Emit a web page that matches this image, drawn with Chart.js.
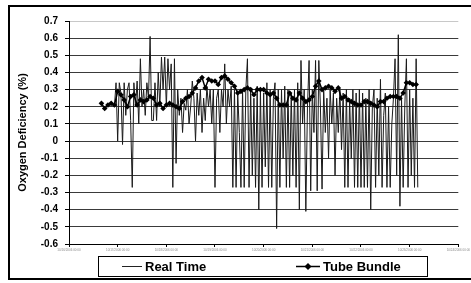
<!DOCTYPE html>
<html>
<head>
<meta charset="utf-8">
<script src="https://cdn.jsdelivr.net/npm/chart.js@4.4.1/dist/chart.umd.min.js"></script>
<style>
  html, body { margin: 0; padding: 0; background: #fff; }
  body { width: 471px; height: 283px; position: relative; overflow: hidden; }
  #frame { position: absolute; left: 8px; top: 5px; width: 480px; height: 275px; border: 2px solid #000; box-sizing: border-box; }
  #c { position: absolute; left: 0; top: 0; }
</style>
</head>
<body>
<div id="frame"></div>
<canvas id="c" width="471" height="283"></canvas>
<script>
// ---- data ----
const xTickLabels = ['10/16/2006 00:00','10/17/2006 00:00','10/18/2006 00:00','10/19/2006 00:00','10/20/2006 00:00','10/21/2006 00:00','10/22/2006 00:00','10/23/2006 00:00','10/24/2006 00:00'];
const yAxisTitle = 'Oxygen Deficiency (%)';
const seriesNames = ['Real Time', 'Tube Bundle'];

// Tube Bundle samples (one per time unit starting at 10)
const tubeStart = 10;
const tubeBundle = [
  0.22,0.19,0.21,0.22,0.21,0.29,0.27,0.24,0.20,0.26,
  0.27,0.21,0.24,0.23,0.24,0.26,0.25,0.21,0.22,0.19,
  0.21,0.22,0.21,0.20,0.19,0.23,0.25,0.26,0.28,0.31,
  0.35,0.37,0.31,0.36,0.35,0.35,0.33,0.37,0.38,0.36,
  0.34,0.32,0.28,0.29,0.30,0.31,0.30,0.27,0.30,0.30,
  0.30,0.28,0.27,0.28,0.25,0.21,0.21,0.21,0.28,0.25,
  0.24,0.28,0.25,0.23,0.24,0.26,0.32,0.35,0.30,0.31,
  0.32,0.31,0.29,0.31,0.25,0.26,0.24,0.23,0.22,0.21,
  0.21,0.23,0.23,0.22,0.21,0.20,0.23,0.23,0.25,0.26,
  0.26,0.26,0.25,0.28,0.34,0.34,0.33,0.33
];

// Real Time samples (every half time unit starting at 14)
const realStart = 14;
const realStep = 0.5;
const realTime = [
  0.20,0.34,0.00,0.34,0.28,-0.02,0.34,0.15,0.30,0.34,
  0.12,-0.27,0.34,0.20,0.35,0.10,0.48,0.20,0.30,0.15,
  0.34,0.25,0.61,0.12,0.12,0.34,0.12,0.40,0.20,0.49,
  0.30,0.49,0.20,0.48,0.30,0.45,-0.27,0.48,-0.13,0.30,
  0.15,0.25,0.05,0.22,0.18,0.30,0.10,0.20,0.35,0.25,
  0.00,0.28,0.15,0.30,0.05,0.25,0.12,0.32,0.20,0.30,
  0.10,0.30,-0.27,0.25,0.30,0.05,0.30,0.20,0.45,0.10,
  0.30,0.20,0.32,-0.27,0.30,-0.27,0.28,0.05,-0.27,0.30,
  -0.27,0.30,0.48,-0.27,0.30,-0.20,0.25,-0.27,0.32,-0.40,
  0.30,-0.27,0.28,-0.15,0.34,-0.27,0.30,-0.27,0.25,0.34,
  -0.51,0.30,-0.27,0.30,-0.10,0.32,-0.27,0.30,-0.27,0.28,
  -0.20,0.30,-0.27,0.34,-0.40,0.47,0.10,0.30,-0.41,0.20,
  0.47,-0.29,0.30,0.05,0.47,-0.29,0.47,0.20,-0.28,0.30,
  0.05,0.25,-0.10,0.30,0.10,0.28,-0.20,0.25,0.05,0.30,
  -0.05,0.28,-0.27,0.30,-0.27,0.25,-0.10,0.30,-0.27,0.28,
  -0.27,0.30,-0.27,0.28,-0.27,0.25,-0.27,0.30,-0.40,0.20,
  0.30,-0.27,0.25,-0.20,0.36,-0.27,0.15,0.28,-0.27,0.20,
  -0.27,0.10,0.25,0.48,-0.20,0.62,-0.38,0.25,-0.27,0.20,
  0.48,-0.27,0.30,-0.20,0.25,-0.27,0.48,-0.27
];

const tubePoints = tubeBundle.map((v, i) => ({ x: tubeStart + i, y: v }));
const realPoints = realTime.map((v, i) => ({ x: realStart + i * realStep, y: v }));

const FONT = "'Liberation Sans', Arial, sans-serif";

const legendBox = {
  id: 'legendBox',
  afterDraw(chart) {
    const ctx = chart.ctx;
    ctx.save();
    ctx.strokeStyle = '#000';
    ctx.lineWidth = 1;
    ctx.strokeRect(98.5, 256.5, 329, 20);
    ctx.font = "bold 13px " + FONT;
    ctx.fillStyle = '#000';
    ctx.textBaseline = 'middle';
    // Real Time
    ctx.beginPath();
    ctx.moveTo(122, 266.5); ctx.lineTo(142, 266.5);
    ctx.lineWidth = 1; ctx.strokeStyle = '#222'; ctx.stroke();
    ctx.fillText(seriesNames[0], 145, 267);
    // Tube Bundle
    ctx.beginPath();
    ctx.moveTo(296, 266.5); ctx.lineTo(320, 266.5);
    ctx.lineWidth = 1.5; ctx.strokeStyle = '#000'; ctx.stroke();
    ctx.beginPath();
    ctx.moveTo(308, 263); ctx.lineTo(311.5, 266.5); ctx.lineTo(308, 270); ctx.lineTo(304.5, 266.5); ctx.closePath();
    ctx.fill();
    ctx.fillText(seriesNames[1], 323, 267);
    ctx.restore();
  }
};

new Chart(document.getElementById('c'), {
  type: 'line',
  data: {
    datasets: [
      { label: seriesNames[0], data: realPoints, borderColor: '#1a1a1a', borderWidth: 1, pointRadius: 0, tension: 0, order: 1 },
      { label: seriesNames[1], data: tubePoints, borderColor: '#000', backgroundColor: '#000', borderWidth: 1.5,
        pointStyle: 'rectRot', pointRadius: 2.8, pointBorderWidth: 0, pointBackgroundColor: '#000', tension: 0, order: 0 }
    ]
  },
  options: {
    responsive: false,
    devicePixelRatio: 1,
    animation: false,
    layout: { padding: { top: 21, right: 12, left: 0, bottom: 0 } },
    plugins: { legend: { display: false }, tooltip: { enabled: false } },
    scales: {
      x: {
        type: 'linear', min: 0, max: 120,
        afterFit: s => { s.height = 39; },
        afterBuildTicks: s => { s.ticks = xTickLabels.map((t, i) => ({ value: i * 15 })); },
        ticks: { callback: (v, i) => xTickLabels[i], font: { size: 3, family: FONT }, color: '#8a8a8a', maxRotation: 0, autoSkip: false, padding: 1 },
        grid: { drawOnChartArea: false, drawTicks: true, tickLength: 3, color: '#000' },
        border: { color: '#000', width: 1 }
      },
      y: {
        min: -0.6, max: 0.7,
        afterFit: s => { s.width = 69; },
        ticks: { stepSize: 0.1, callback: v => Math.abs(v) < 1e-9 ? '0' : v.toFixed(1), font: { size: 10, weight: 'bold', family: FONT }, color: '#000', padding: 7 },
        grid: { color: ctx => (ctx.tick && Math.abs(ctx.tick.value - 0.7) < 1e-9) ? '#c8c8c8' : '#3a3a3a', lineWidth: 1, tickLength: 4, tickColor: '#000' },
        border: { color: '#000', width: 1 },
        title: { display: true, text: yAxisTitle, font: { size: 11, weight: 'bold', family: FONT }, color: '#000', padding: { top: 16, bottom: 0 } }
      }
    }
  },
  plugins: [legendBox]
});
</script>
</body>
</html>
